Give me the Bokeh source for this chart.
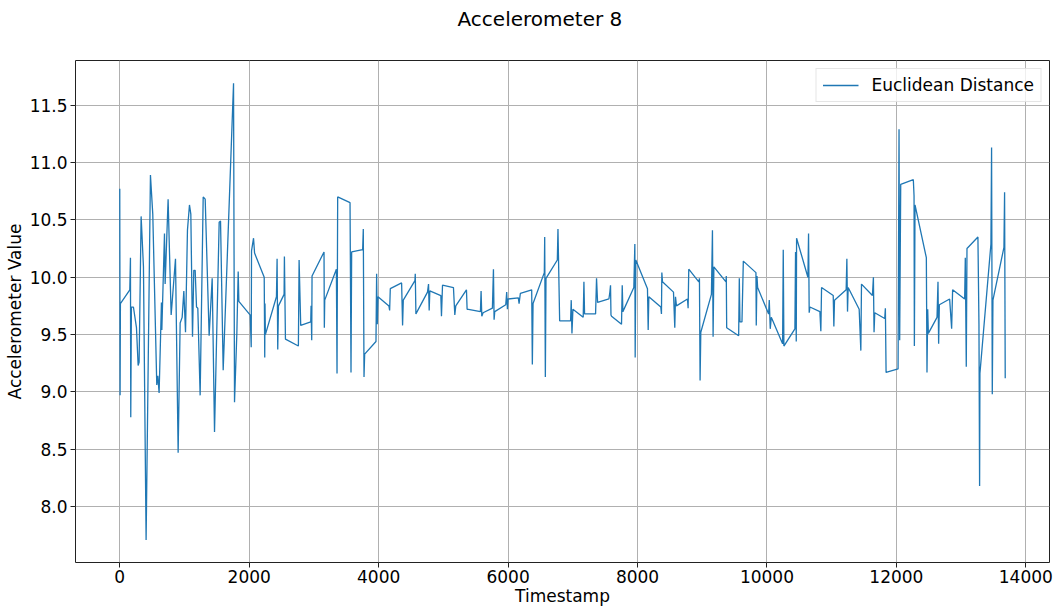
from bokeh.plotting import figure
from bokeh.models import Range1d, FixedTicker, PrintfTickFormatter, Legend, LegendItem, Title
from bokeh.embed import file_html
from bokeh.resources import INLINE

timestamps = [
    0, 5, 10, 155, 165, 170, 180, 211, 258, 284, 299, 330, 366, 407, 474, 510,
    572, 588, 608, 644, 650, 691, 701, 747, 794, 820, 861, 902, 933, 964, 990,
    1016, 1046, 1077, 1098, 1124, 1144, 1165, 1186, 1206, 1242, 1289, 1320,
    1381, 1428, 1464, 1536, 1557, 1598, 1758, 1773, 1809, 1830, 1840, 2016,
    2031, 2036, 2067, 2083, 2232, 2240, 2244, 2250, 2421, 2431, 2441, 2452,
    2539, 2544, 2560, 2760, 2771, 2796, 2951, 2956, 2966, 2971, 3156, 3161,
    3167, 3347, 3357, 3367, 3558, 3573, 3583, 3753, 3763, 3774, 3784, 3959,
    3969, 3979, 3990, 4159, 4170, 4180, 4355, 4370, 4381, 4561, 4566, 4576,
    4755, 4771, 4781, 4791, 4961, 4971, 4987, 5156, 5177, 5192, 5357, 5367,
    5388, 5573, 5583, 5594, 5614, 5758, 5774, 5784, 5794, 5964, 5979, 5990,
    6000, 6159, 6170, 6190, 6365, 6375, 6386, 6560, 6566, 6576, 6586, 6761,
    6771, 6797, 6966, 6976, 6987, 7002, 7161, 7172, 7182, 7352, 7367, 7383,
    7558, 7573, 7583, 7590, 7599, 7753, 7764, 7774, 7943, 7959, 7964, 7974,
    8154, 8165, 8175, 8360, 8370, 8376, 8386, 8556, 8576, 8587, 8602, 8772,
    8782, 8792, 8947, 8957, 8967, 8978, 9142, 9158, 9168, 9180, 9367, 9372,
    9378, 9563, 9573, 9583, 9614, 9635, 9830, 9835, 9846, 9856, 10026, 10036,
    10051, 10067, 10242, 10252, 10262, 10432, 10442, 10453, 10458, 10633,
    10643, 10653, 10664, 10818, 10833, 10844, 11024, 11034, 11044, 11224,
    11235, 11245, 11255, 11425, 11451, 11461, 11630, 11645, 11655, 11666,
    11820, 11830, 11841, 12026, 12041, 12051, 12067, 12262, 12273, 12278,
    12288, 12463, 12473, 12484, 12494, 12628, 12643, 12653, 12664, 12823,
    12854, 12869, 13055, 13065, 13080, 13091, 13260, 13276, 13286, 13291,
    13461, 13471, 13482, 13492, 13662, 13672, 13682,
]

euclidean_distance = [
    10.77, 8.97, 9.77, 9.89, 10.17, 8.78, 9.74, 9.74, 9.56, 9.23, 9.26, 10.53,
    10.09, 7.71, 10.89, 10.55, 9.06, 9.14, 8.99, 9.78, 9.54, 10.38, 9.94,
    10.68, 9.67, 9.86, 10.16, 8.47, 9.60, 9.65, 9.88, 9.52, 10.41, 10.63,
    10.55, 9.48, 10.06, 10.06, 9.74, 9.73, 8.97, 10.70, 10.68, 9.49, 9.99,
    8.65, 10.48, 10.49, 9.19, 11.69, 8.91, 9.51, 10.05, 9.79, 9.67, 9.39,
    10.23, 10.34, 10.21, 10.00, 9.30, 9.77, 9.50, 9.83, 10.16, 9.37, 9.75,
    9.85, 10.18, 9.46, 9.40, 10.15, 9.58, 9.61, 9.75, 9.45, 10.01, 10.22,
    9.56, 9.80, 10.07, 9.16, 10.70, 10.65, 9.17, 10.22, 10.24, 10.42, 9.13,
    9.33, 9.44, 10.03, 9.59, 9.83, 9.75, 9.71, 9.90, 9.95, 9.58, 9.80, 9.97,
    10.03, 9.68, 9.87, 9.94, 9.71, 9.88, 9.84, 9.66, 9.93, 9.91, 9.67, 9.75,
    9.89, 9.72, 9.72, 9.70, 9.88, 9.66, 9.69, 9.73, 10.07, 9.63, 9.70, 9.76,
    9.87, 9.72, 9.81, 9.82, 9.77, 9.86, 9.89, 9.24, 9.77, 10.04, 10.35, 9.13,
    9.99, 10.15, 10.42, 9.62, 9.62, 9.80, 9.51, 9.72, 9.65, 9.96, 9.68, 9.68,
    9.99, 9.78, 9.81, 9.87, 9.93, 9.67, 9.66, 9.59, 9.93, 9.70, 9.91, 10.29,
    9.30, 10.15, 9.90, 9.54, 9.83, 9.74, 9.68, 10.04, 9.96, 9.87, 9.56, 9.83,
    9.75, 9.81, 9.73, 10.07, 9.96, 9.99, 9.10, 9.52, 9.85, 10.41, 9.48, 10.09,
    9.96, 10.01, 9.56, 9.49, 9.99, 9.61, 9.61, 10.14, 10.04, 9.58, 10.01,
    9.91, 9.68, 9.80, 9.55, 9.65, 9.42, 10.24, 9.40, 9.55, 10.22, 9.44, 10.34,
    10.00, 10.38, 9.69, 9.74, 9.70, 9.53, 9.91, 9.84, 9.57, 9.80, 9.89, 10.16,
    9.70, 9.91, 9.72, 9.36, 9.94, 9.84, 10.00, 9.52, 9.69, 9.64, 9.73, 9.17,
    9.20, 11.29, 9.45, 10.81, 10.85, 10.71, 9.40, 10.63, 10.17, 9.17, 9.72,
    9.51, 9.65, 9.96, 9.42, 9.76, 9.81, 9.55, 9.89, 9.81, 10.17, 9.22, 10.25,
    10.35, 9.59, 8.18, 9.16, 10.29, 11.13, 8.98, 9.80, 10.26, 10.74, 9.12,
]

x_ticks = [0, 2000, 4000, 6000, 8000, 10000, 12000, 14000]
y_ticks = [8.0, 8.5, 9.0, 9.5, 10.0, 10.5, 11.0, 11.5]

FONT = "DejaVu Sans"

p = figure(width=1054, height=608, output_backend="svg", toolbar_location=None,
           x_range=Range1d(-684, 14366), y_range=Range1d(7.513, 11.889),
           min_border_left=75, min_border_right=5, min_border_top=60,
           min_border_bottom=46)

# blank spacer between the frame and the title (pushes the title upward)
spacer = Title(text=" ", text_font=FONT, text_font_size="20px", standoff=4)
p.add_layout(spacer, "above")

p.title.text = "Accelerometer 8"
p.title.text_font = FONT
p.title.text_font_size = "20px"
p.title.text_font_style = "normal"
p.title.text_color = "black"
p.title.align = "left"
p.title.offset = 382
p.title.standoff = 0
p.title.vertical_align = "bottom"

p.background_fill_color = "white"
p.border_fill_color = "white"
p.outline_line_color = "#222222"
p.outline_line_width = 1

line = p.line(timestamps, euclidean_distance, line_color="#1f77b4", line_width=1.3)

for ax in (p.xaxis[0], p.yaxis[0]):
    ax.axis_line_color = None
    ax.major_tick_out = 5
    ax.major_tick_in = 0
    ax.minor_tick_out = 0
    ax.minor_tick_in = 0
    ax.major_tick_line_color = "#222222"
    ax.major_label_text_font = FONT
    ax.major_label_text_font_size = "17px"
    ax.major_label_text_color = "black"
    ax.axis_label_text_font = FONT
    ax.axis_label_text_font_size = "17px"
    ax.axis_label_text_font_style = "normal"
    ax.axis_label_text_color = "black"
    ax.major_label_standoff = 2
    ax.axis_label_standoff = 0

p.yaxis[0].major_label_standoff = 3
p.yaxis[0].axis_label_standoff = 2

p.xaxis[0].ticker = FixedTicker(ticks=x_ticks)
p.yaxis[0].ticker = FixedTicker(ticks=y_ticks)
p.yaxis[0].formatter = PrintfTickFormatter(format="%.1f")
p.xaxis[0].axis_label = "Timestamp"
p.yaxis[0].axis_label = "Accelerometer Value"

p.xgrid.grid_line_color = "#b0b0b0"
p.ygrid.grid_line_color = "#b0b0b0"
p.xgrid.grid_line_width = 1
p.ygrid.grid_line_width = 1

legend = Legend(items=[LegendItem(label="Euclidean Distance", renderers=[line])],
                location="top_right", margin=8, padding=6, spacing=0,
                glyph_width=36, glyph_height=18, label_height=18,
                label_standoff=13,
                label_text_font=FONT, label_text_font_size="17px",
                label_text_color="black",
                border_line_color="#cccccc", border_line_width=1,
                background_fill_alpha=0.8)
p.add_layout(legend, "center")

open("out.html", "w").write(file_html(p, INLINE))
